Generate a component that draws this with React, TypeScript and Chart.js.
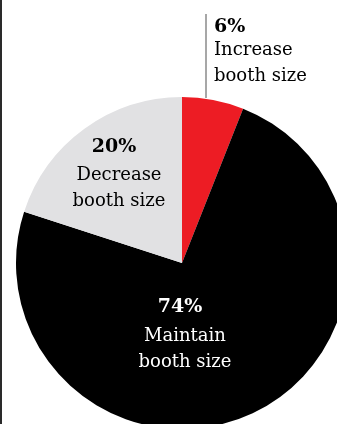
import React, { useEffect, useRef } from "react";
import { Chart, registerables } from "chart.js";

Chart.register(...registerables);

// Survey answers, clockwise from 12 o'clock
const categories = ["Increase booth size", "Maintain booth size", "Decrease booth size"];
const shares = [6, 74, 20];
const sliceColors = ["#ED1C24", "#000000", "#E1E1E3"];
const pctLabels = ["6%", "74%", "20%"];
const labelLines = [
  ["Increase", "booth size"],
  ["Maintain", "booth size"],
  ["Decrease", "booth size"],
];

const SERIF = '"DejaVu Serif", serif';

// Annotation text and the leader line for the small slice
const labelPlugin = {
  id: "sliceLabels",
  afterDraw(chart: any) {
    const ctx = chart.ctx as CanvasRenderingContext2D;
    const arc = chart.getDatasetMeta(0).data[0] as any;
    const cx = arc.x;
    const cy = arc.y;
    const r = arc.outerRadius;

    ctx.save();

    // left rule
    ctx.fillStyle = "#2a2a2a";
    ctx.fillRect(0, 0, 2, chart.height);

    // leader line to the top of the pie
    ctx.strokeStyle = "#8a8a8a";
    ctx.lineWidth = 1.5;
    ctx.beginPath();
    ctx.moveTo(cx + 24, 14);
    ctx.lineTo(cx + 24, cy - r + 1);
    ctx.stroke();

    const draw = (
      idx: number,
      x: number,
      pctX: number,
      y: number,
      gap: number,
      align: CanvasTextAlign,
      color: string
    ) => {
      ctx.fillStyle = color;
      ctx.textAlign = align;
      ctx.textBaseline = "alphabetic";
      ctx.font = `bold 19px ${SERIF}`;
      ctx.fillText(pctLabels[idx], pctX, y);
      ctx.font = `18px ${SERIF}`;
      labelLines[idx].forEach((line, i) => {
        ctx.fillText(line, x, y + gap + i * 26);
      });
    };

    // Increase (outside, top right)
    draw(0, cx + 32, cx + 32, 32, 23, "left", "#000000");
    // Decrease (inside gray slice)
    draw(2, cx - 63, cx - 68, cy - 111, 28, "center", "#000000");
    // Maintain (inside black slice)
    draw(1, cx + 3, cx - 2, cy + 49, 29, "center", "#ffffff");

    ctx.restore();
  },
};

export default function App() {
  const canvasRef = useRef<HTMLCanvasElement | null>(null);

  useEffect(() => {
    const canvas = canvasRef.current;
    if (!canvas) return;
    const chart = new Chart(canvas, {
      type: "pie",
      data: {
        labels: categories,
        datasets: [
          {
            data: shares,
            backgroundColor: sliceColors,
            borderWidth: 0,
            clip: false as any,
          },
        ],
      },
      options: {
        responsive: false,
        animation: false,
        devicePixelRatio: 1,
        radius: 166,
        layout: { padding: { left: 27, right: 0, top: 102, bottom: 0 } },
        plugins: {
          legend: { display: false },
          tooltip: { enabled: false },
        },
      } as any,
      plugins: [labelPlugin],
    });
    return () => chart.destroy();
  }, []);

  return (
    <div
      style={{
        position: "fixed",
        left: 0,
        top: 0,
        width: 337,
        height: 424,
        overflow: "hidden",
        background: "#ffffff",
      }}
    >
      <canvas ref={canvasRef} width={337} height={424} style={{ display: "block" }} />
    </div>
  );
}
